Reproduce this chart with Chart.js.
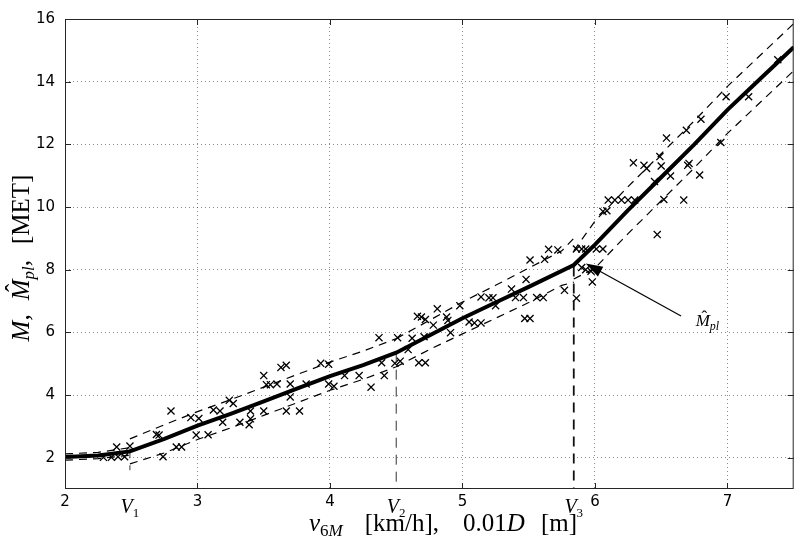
<!DOCTYPE html>
<html>
<head>
<meta charset="utf-8">
<script src="https://cdn.jsdelivr.net/npm/chart.js@4.4.1/dist/chart.umd.min.js"></script>
<style>
  html, body { margin: 0; padding: 0; background: #fff; }
  #wrap { width: 800px; height: 555px; }
</style>
</head>
<body>
<div id="wrap"><canvas id="chart" width="800" height="555"></canvas></div>
<script>
// axis ticks
const xTicks = [2, 3, 4, 5, 6, 7];
const yTicks = [2, 4, 6, 8, 10, 12, 14, 16];

// break points V1, V2, V3 and their vertical dashed lines
const breakX = [2.49, 4.5, 5.84];
const breakSub = ['1', '2', '3'];
const breakTop = [2.3, 5.35, 8.1];
const breakBottom = [1.6, 1, 1];

// fitted model M_pl (piecewise)
const fitX = [2.0, 2.25, 2.49, 2.75, 3.0, 3.25, 3.5, 3.75, 4.0, 4.25, 4.5,
              4.75, 5.0, 5.25, 5.5, 5.84, 6.0, 6.25, 6.5, 6.75, 7.0, 7.25, 7.5];
const fitY = [2.02, 2.07, 2.2, 2.6, 3.02, 3.4, 3.8, 4.2, 4.6, 4.95, 5.35,
              5.9, 6.45, 6.95, 7.45, 8.15, 8.8, 9.9, 10.95, 12.0, 13.1, 14.1, 15.1];

// confidence band, null breaks between segments
const bandX  = [2.0, 2.25, 2.49, 2.49,
                2.49, 2.75, 3.0, 3.25, 3.5, 3.75, 4.0, 4.25, 4.5, 4.5,
                4.5, 4.75, 5.0, 5.25, 5.5, 5.75, 5.84, 5.84,
                5.84, 6.0, 6.25, 6.5, 6.75, 7.0, 7.25, 7.5];
const upperY = [2.12, 2.17, 2.32, null,
                2.6, 3.05, 3.47, 3.85, 4.25, 4.65, 5.05, 5.4, 5.8, null,
                5.8, 6.38, 6.97, 7.5, 8.05, 8.6, 9.0, null,
                8.6, 9.55, 10.65, 11.7, 12.75, 13.85, 14.85, 15.85];
const lowerY = [1.92, 1.97, 2.08, null,
                1.8, 2.15, 2.58, 2.95, 3.35, 3.75, 4.15, 4.5, 4.9, null,
                4.9, 5.45, 5.95, 6.45, 6.95, 7.5, 7.6, null,
                7.7, 8.05, 9.15, 10.2, 11.25, 12.35, 13.35, 14.35];

// measured points
const obsX = [2.29, 2.35, 2.40, 2.45, 2.39, 2.49, 2.74,
  2.69, 2.71, 2.80, 2.84, 2.88, 2.95, 3.01, 2.99, 3.08, 3.12, 3.17, 3.24, 3.27,
  3.19, 3.32, 3.39, 3.40, 3.40, 3.50, 3.50, 3.52, 3.55, 3.60, 3.63, 3.67, 3.67,
  3.77, 3.70, 3.70, 3.82, 3.93, 3.99, 3.99, 4.03, 4.11, 4.22, 4.31, 4.37, 4.51,
  4.39, 4.41, 4.49, 4.53, 4.59, 4.67, 4.72, 4.62, 4.71, 4.66, 4.69, 4.72, 4.78,
  4.81, 4.88, 4.89, 4.91, 4.98, 5.05, 5.09, 5.14, 5.14, 5.20, 5.23, 5.25, 5.37,
  5.40, 5.46, 5.56, 5.61, 5.47, 5.51, 5.48, 5.51, 5.62, 5.65, 5.72, 5.77, 5.86,
  5.90, 5.93, 6.01, 6.06, 5.86, 5.90, 5.93, 5.98, 5.97, 6.06, 6.09, 6.10, 6.15,
  6.20, 6.25, 6.30, 6.29, 6.37, 6.39, 6.49, 6.50, 6.54, 6.45, 6.57, 6.52, 6.67,
  6.70, 6.79, 6.47, 6.69, 6.80, 6.99, 7.16, 6.95, 7.38, 6.71];
const obsY = [2.01, 2.01, 2.03, 2.03, 2.34, 2.37, 2.03,
  2.74, 2.72, 3.49, 2.34, 2.34, 3.28, 3.25, 2.72, 2.73, 3.52, 3.49, 3.83, 3.73,
  3.13, 3.13, 3.05, 3.24, 3.49, 3.49, 4.62, 4.33, 4.33, 4.35, 4.88, 4.95, 3.49,
  3.49, 4.35, 3.94, 4.35, 5.01, 4.98, 4.35, 4.28, 4.62, 4.62, 4.25, 5.83, 5.83,
  5.03, 4.62, 5.01, 5.08, 5.45, 5.03, 5.03, 5.81, 5.86, 6.51, 6.49, 6.41, 6.23,
  6.75, 6.49, 6.38, 5.99, 6.85, 6.33, 6.30, 6.30, 7.13, 7.10, 7.10, 6.85, 7.38,
  7.11, 7.11, 7.11, 7.11, 6.44, 6.44, 7.69, 8.31, 8.33, 8.65, 8.63, 7.34, 8.66,
  8.66, 8.66, 8.66, 8.66, 7.09, 8.07, 8.00, 7.61, 7.95, 9.86, 9.88, 10.22, 10.22,
  10.22, 10.22, 10.22, 11.41, 11.33, 11.23, 11.61, 11.31, 12.20, 10.81, 10.99, 10.24, 10.22,
  11.33, 11.02, 9.12, 12.45, 12.80, 13.52, 13.52, 12.06, 14.70, 11.39];

// annotation arrow (tail -> head) and its label
const arrowTail = [6.65, 6.52];
const arrowHead = [5.93, 8.2];
const arrowLabelAt = [6.76, 6.2];

const pts = (xs, ys) => xs.map((v, i) => ({ x: v, y: ys[i] }));

const serif = '"Liberation Serif", "DejaVu Serif", serif';

// draws a list of text pieces with different fonts on one baseline
function drawRich(ctx, parts, x, y) {
  let w = 0;
  parts.forEach(p => { ctx.font = p.font; p.w = ctx.measureText(p.t).width; w += p.w + (p.gap || 0); });
  let cx = x - w / 2;
  parts.forEach(p => {
    ctx.font = p.font;
    ctx.fillText(p.t, cx, y + (p.dy || 0));
    if (p.hat) {
      ctx.font = p.hatFont;
      ctx.textAlign = 'center';
      ctx.fillText('\u02C6', cx + p.w / 2 + 2, y + p.hatDy);
      ctx.textAlign = 'left';
    }
    cx += p.w + (p.gap || 0);
  });
}

const decor = {
  id: 'decor',
  afterDatasetsDraw(chart) {
    const { ctx, chartArea: a, scales: { x, y } } = chart;
    ctx.save();

    // box
    ctx.strokeStyle = '#262626';
    ctx.lineWidth = 1;
    ctx.strokeRect(a.left + 0.5, a.top + 0.5, a.right - a.left - 1, a.bottom - a.top - 1);

    // inward tick marks
    ctx.beginPath();
    xTicks.forEach(v => {
      const px = Math.round(x.getPixelForValue(v)) + 0.5;
      ctx.moveTo(px, a.bottom); ctx.lineTo(px, a.bottom - 6);
      ctx.moveTo(px, a.top); ctx.lineTo(px, a.top + 6);
    });
    yTicks.forEach(v => {
      const py = Math.round(y.getPixelForValue(v)) + 0.5;
      ctx.moveTo(a.left, py); ctx.lineTo(a.left + 6, py);
      ctx.moveTo(a.right, py); ctx.lineTo(a.right - 6, py);
    });
    ctx.stroke();

    ctx.fillStyle = '#000';
    ctx.textAlign = 'left';
    ctx.textBaseline = 'alphabetic';

    // V1, V2, V3 labels
    breakX.forEach((v, i) => {
      drawRich(ctx, [
        { t: 'V', font: 'italic 20px ' + serif },
        { t: breakSub[i], font: '13px ' + serif, dy: 4 }
      ], x.getPixelForValue(v), a.bottom + 24);
    });

    // x title
    drawRich(ctx, [
      { t: 'v', font: 'italic 25px ' + serif },
      { t: '6', font: '17px ' + serif, dy: 5 },
      { t: 'M', font: 'italic 17px ' + serif, dy: 5, gap: 22 },
      { t: '[km/h],', font: '25px ' + serif, gap: 24 },
      { t: '0.01', font: '25px ' + serif },
      { t: 'D', font: 'italic 25px ' + serif, gap: 16 },
      { t: '[m]', font: '25px ' + serif }
    ], 443, a.bottom + 42);

    // y title
    ctx.save();
    ctx.translate(29, 258);
    ctx.rotate(-Math.PI / 2);
    drawRich(ctx, [
      { t: 'M,', font: 'italic 25px ' + serif, gap: 14 },
      { t: 'M', font: 'italic 25px ' + serif, hat: true, hatFont: '25px ' + serif, hatDy: -6 },
      { t: 'pl', font: 'italic 17px ' + serif, dy: 5 },
      { t: ',', font: '25px ' + serif, gap: 16 },
      { t: '[MET]', font: '25px ' + serif }
    ], 0, 0);
    ctx.restore();

    // arrow
    const tx = x.getPixelForValue(arrowTail[0]), ty = y.getPixelForValue(arrowTail[1]);
    const hx = x.getPixelForValue(arrowHead[0]), hy = y.getPixelForValue(arrowHead[1]);
    const ang = Math.atan2(hy - ty, hx - tx);
    ctx.strokeStyle = '#000';
    ctx.lineWidth = 1.2;
    ctx.beginPath();
    ctx.moveTo(tx, ty); ctx.lineTo(hx - 10 * Math.cos(ang), hy - 10 * Math.sin(ang));
    ctx.stroke();
    ctx.beginPath();
    ctx.moveTo(hx, hy);
    ctx.lineTo(hx - 17 * Math.cos(ang) + 5.5 * Math.sin(ang), hy - 17 * Math.sin(ang) - 5.5 * Math.cos(ang));
    ctx.lineTo(hx - 17 * Math.cos(ang) - 5.5 * Math.sin(ang), hy - 17 * Math.sin(ang) + 5.5 * Math.cos(ang));
    ctx.closePath();
    ctx.fill();

    // arrow label
    const lx = x.getPixelForValue(arrowLabelAt[0]), ly = y.getPixelForValue(arrowLabelAt[1]);
    ctx.font = 'italic 17px ' + serif;
    const mw = ctx.measureText('M').width;
    ctx.fillText('M', lx, ly);
    ctx.font = '17px ' + serif;
    ctx.textAlign = 'center';
    ctx.fillText('\u02C6', lx + mw / 2 + 1.5, ly - 4);
    ctx.textAlign = 'left';
    ctx.font = 'italic 12px ' + serif;
    ctx.fillText('pl', lx + mw, ly + 4);

    ctx.restore();
  }
};

const gridColor = 'rgba(0, 0, 0, 0.45)';
const tickFont = { family: '"DejaVu Sans", "Liberation Sans", sans-serif', size: 15 };

new Chart(document.getElementById('chart'), {
  type: 'line',
  data: {
    datasets: [
      {
        label: 'fit',
        data: pts(fitX, fitY),
        borderColor: '#000',
        borderWidth: 4,
        pointRadius: 0,
        tension: 0
      },
      {
        label: 'upper',
        data: pts(bandX, upperY),
        borderColor: '#000',
        borderWidth: 1.2,
        borderDash: [8, 6],
        pointRadius: 0,
        spanGaps: false
      },
      {
        label: 'lower',
        data: pts(bandX, lowerY),
        borderColor: '#000',
        borderWidth: 1.2,
        borderDash: [8, 6],
        pointRadius: 0,
        spanGaps: false
      },
      ...breakX.map((v, i) => ({
        label: 'V' + breakSub[i],
        data: [{ x: v, y: breakTop[i] }, { x: v, y: breakBottom[i] }],
        borderColor: i === 2 ? '#111' : '#333',
        borderWidth: i === 2 ? 1.8 : 1,
        borderDash: [10, 7],
        pointRadius: 0
      })),
      {
        label: 'M',
        type: 'scatter',
        data: pts(obsX, obsY),
        showLine: false,
        pointStyle: 'crossRot',
        pointRadius: 5,
        pointBorderColor: '#000',
        pointBorderWidth: 1.3,
        borderColor: '#000'
      }
    ]
  },
  options: {
    responsive: false,
    animation: false,
    layout: {
      padding: { left: 0, top: 9, right: 5, bottom: 0 }
    },
    plugins: {
      legend: { display: false },
      tooltip: { enabled: false }
    },
    scales: {
      x: {
        type: 'linear',
        min: 2,
        max: 7.5,
        afterBuildTicks: s => { s.ticks = xTicks.map(v => ({ value: v })); },
        afterFit: s => { s.height = 66; },
        grid: { color: gridColor, lineWidth: 1, drawTicks: false, tickLength: 0 },
        border: { display: false, dash: [1, 3] },
        ticks: {
          color: '#000',
          font: tickFont,
          padding: 4,
          maxRotation: 0,
          autoSkip: false
        }
      },
      y: {
        type: 'linear',
        min: 1,
        max: 16,
        afterBuildTicks: s => { s.ticks = yTicks.map(v => ({ value: v })); },
        afterFit: s => { s.width = 65; },
        grid: { color: gridColor, lineWidth: 1, drawTicks: false, tickLength: 0 },
        border: { display: false, dash: [1, 3] },
        ticks: {
          color: '#000',
          font: tickFont,
          padding: 10
        }
      }
    }
  },
  plugins: [decor]
});
</script>
</body>
</html>
